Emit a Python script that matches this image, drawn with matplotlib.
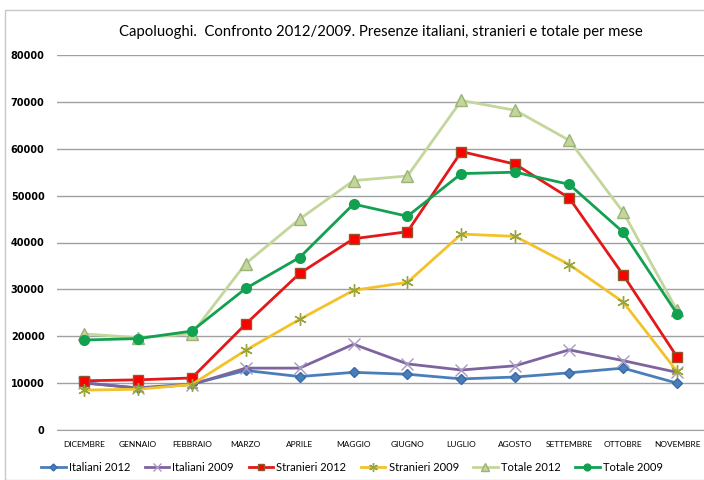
import matplotlib.pyplot as plt
from matplotlib.patches import Rectangle

plt.rcParams['font.family'] = ['Lato', 'DejaVu Sans']

months = ["DICEMBRE", "GENNAIO", "FEBBRAIO", "MARZO", "APRILE", "MAGGIO",
          "GIUGNO", "LUGLIO", "AGOSTO", "SETTEMBRE", "OTTOBRE", "NOVEMBRE"]

italiani_2012 = [10000, 9000, 9800, 12700, 11400, 12300, 11900, 10900, 11300, 12200, 13200, 10000]
italiani_2009 = [10100, 8900, 9700, 13200, 13200, 18300, 14100, 12800, 13700, 17100, 14800, 12300]
stranieri_2012 = [10500, 10700, 11100, 22600, 33400, 40800, 42300, 59400, 56700, 49500, 33100, 15600]
stranieri_2009 = [8500, 8700, 9700, 17000, 23600, 29800, 31500, 41800, 41300, 35300, 27300, 12500]
totale_2012 = [20500, 19700, 20500, 35500, 45000, 53200, 54200, 70300, 68200, 61800, 46500, 25500]
totale_2009 = [19200, 19500, 21100, 30200, 36800, 48200, 45600, 54700, 55000, 52400, 42200, 24800]

series = [
    ("Italiani 2012", italiani_2012, "#4A7EBB", "D", "#4A7EBB", "#3A6AA5", 5),
    ("Italiani 2009", italiani_2009, "#7E649E", "x", "#A899C2", "#A899C2", 8),
    ("Stranieri 2012", stranieri_2012, "#E3181B", "s", "#FF0000", "#8C5A2B", 7),
    ("Stranieri 2009", stranieri_2009, "#F3C22A", (6, 2, 0), "#F3C22A", "#9AA43A", 9),
    ("Totale 2012", totale_2012, "#C3D69B", "^", "#C3D69B", "#9DB276", 8),
    ("Totale 2009", totale_2009, "#12A150", "o", "#12A150", "#12A150", 7),
]

fig = plt.figure(figsize=(7.04, 4.80), dpi=100)
ax = fig.add_axes([57 / 704, 50 / 480, 647 / 704, 375 / 480])

x = list(range(len(months)))
for label, vals, color, marker, mface, medge, msize in series:
    ax.plot(x, vals, color=color, linewidth=2.0, marker=marker, markersize=msize,
            markerfacecolor=mface, markeredgecolor=medge, markeredgewidth=1.0,
            label=label)

ax.set_xlim(-0.5, 11.5)
ax.set_ylim(0, 80000)
ax.set_yticks(range(0, 80001, 10000))
ax.set_yticklabels([str(v) for v in range(0, 80001, 10000)], fontsize=7,
                   fontweight="bold", family="DejaVu Sans")
ax.set_xticks(x)
ax.set_xticklabels(months, fontsize=6)
ax.tick_params(axis="both", length=0)
ax.tick_params(axis="y", pad=9)
ax.tick_params(axis="x", pad=8)
ax.grid(axis="y", color="#A0A0A0", linewidth=1.0)
ax.set_axisbelow(True)
for side in ["top", "right", "left"]:
    ax.spines[side].set_visible(False)
ax.spines["bottom"].set_color("#A0A0A0")

ax.set_title("Capoluoghi.  Confronto 2012/2009. Presenze italiani, stranieri e totale per mese",
             fontsize=10.7, pad=14)

ax.legend(loc="center", bbox_to_anchor=(295 / 647, -0.1), ncol=6, frameon=False,
          fontsize=8, markerscale=0.7, handlelength=2.2, columnspacing=1.3,
          handletextpad=0.3)

fig.patches.append(Rectangle((5 / 704, 0), 1, 1 - 10 / 480, transform=fig.transFigure,
                             fill=False, edgecolor="#C8C8C8", linewidth=1.0))

fig.savefig("out.png", dpi=100)
